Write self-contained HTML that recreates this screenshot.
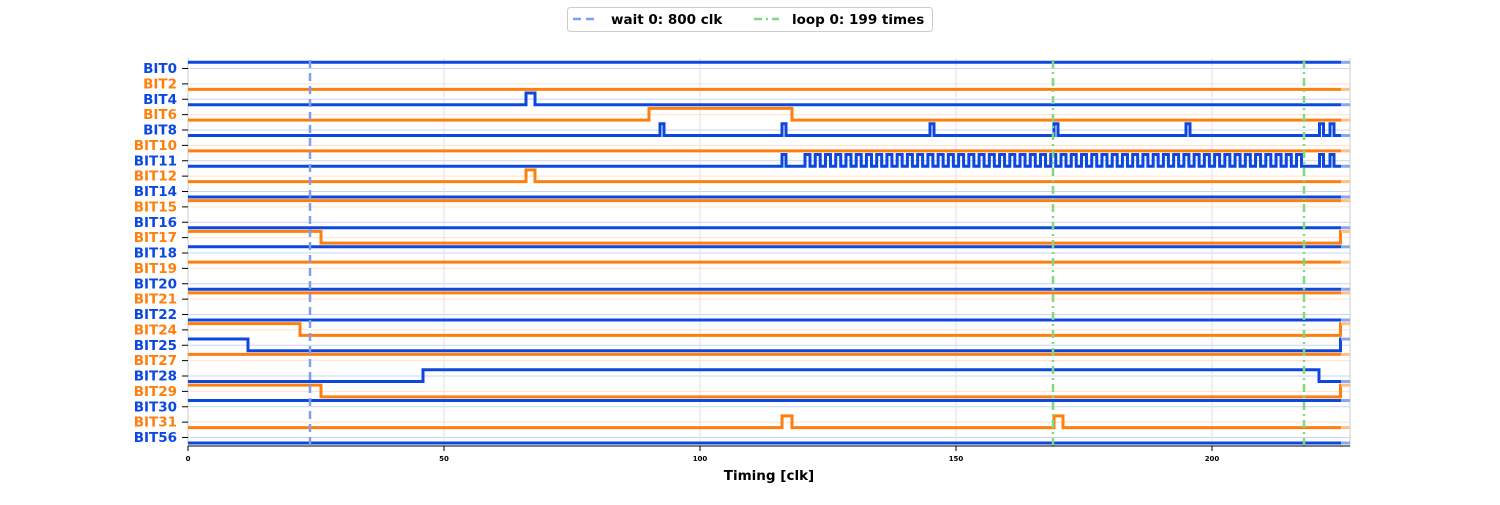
<!DOCTYPE html>
<html><head><meta charset="utf-8"><style>
body{margin:0;background:#fff;width:1500px;height:500px;overflow:hidden}
svg text{font-family:"DejaVu Sans","Liberation Sans",sans-serif;font-weight:bold}
</style></head><body>
<svg id="s" width="1500" height="500" xmlns="http://www.w3.org/2000/svg">
<g id="grid"></g>
<g stroke="#e0e0e0" stroke-width="1">
<line x1="444" y1="58" x2="444" y2="446"/><line x1="700" y1="58" x2="700" y2="446"/><line x1="956" y1="58" x2="956" y2="446"/><line x1="1212" y1="58" x2="1212" y2="446"/>
</g>
<line x1="188" y1="58" x2="188" y2="446" stroke="#ccc"/>
<line x1="1350" y1="58" x2="1350" y2="446" stroke="#ccc"/>
<g id="sig"></g>
<line x1="310" y1="60" x2="310" y2="446" stroke="#7f9ef0" stroke-width="2.5" stroke-dasharray="8,5"/>
<line x1="1053" y1="60" x2="1053" y2="446" stroke="#80d880" stroke-width="2.5" stroke-dasharray="8,4,2,4"/>
<line x1="1304" y1="60" x2="1304" y2="446" stroke="#80d880" stroke-width="2.5" stroke-dasharray="8,4,2,4"/>
<line x1="188" y1="446" x2="1350" y2="446" stroke="#000" stroke-width="1"/>
<g stroke="#000" stroke-width="1"><line x1="188" y1="446" x2="188" y2="451"/><line x1="444" y1="446" x2="444" y2="451"/><line x1="700" y1="446" x2="700" y2="451"/><line x1="956" y1="446" x2="956" y2="451"/><line x1="1212" y1="446" x2="1212" y2="451"/></g>
<g font-size="7" text-anchor="middle" fill="#000">
<text x="188" y="461">0</text><text x="444" y="461">50</text><text x="700" y="461">100</text><text x="956" y="461">150</text><text x="1212" y="461">200</text>
</g>
<text x="769" y="480" font-size="13.5" text-anchor="middle" fill="#000">Timing [clk]</text>
<g id="ticks" stroke="#000"></g>
<g font-size="13.5" text-anchor="end">
<text x="177" y="73" fill="#0c48e0">BIT0</text>
<text x="177" y="88.4" fill="#ff7f0e">BIT2</text>
<text x="177" y="103.8" fill="#0c48e0">BIT4</text>
<text x="177" y="119.1" fill="#ff7f0e">BIT6</text>
<text x="177" y="134.5" fill="#0c48e0">BIT8</text>
<text x="177" y="149.9" fill="#ff7f0e">BIT10</text>
<text x="177" y="165.3" fill="#0c48e0">BIT11</text>
<text x="177" y="180.6" fill="#ff7f0e">BIT12</text>
<text x="177" y="196" fill="#0c48e0">BIT14</text>
<text x="177" y="211.4" fill="#ff7f0e">BIT15</text>
<text x="177" y="226.8" fill="#0c48e0">BIT16</text>
<text x="177" y="242.1" fill="#ff7f0e">BIT17</text>
<text x="177" y="257.5" fill="#0c48e0">BIT18</text>
<text x="177" y="272.9" fill="#ff7f0e">BIT19</text>
<text x="177" y="288.3" fill="#0c48e0">BIT20</text>
<text x="177" y="303.6" fill="#ff7f0e">BIT21</text>
<text x="177" y="319" fill="#0c48e0">BIT22</text>
<text x="177" y="334.4" fill="#ff7f0e">BIT24</text>
<text x="177" y="349.8" fill="#0c48e0">BIT25</text>
<text x="177" y="365.1" fill="#ff7f0e">BIT27</text>
<text x="177" y="380.5" fill="#0c48e0">BIT28</text>
<text x="177" y="395.9" fill="#ff7f0e">BIT29</text>
<text x="177" y="411.3" fill="#0c48e0">BIT30</text>
<text x="177" y="426.6" fill="#ff7f0e">BIT31</text>
<text x="177" y="442" fill="#0c48e0">BIT56</text>
</g>
<rect x="567.5" y="7.5" width="365" height="24" rx="3" fill="#fff" stroke="#ccc"/>
<line x1="573" y1="19" x2="598" y2="19" stroke="#7f9ef0" stroke-width="2.5" stroke-dasharray="8,5"/>
<text x="611" y="24" font-size="13.5" fill="#000">wait 0: 800 clk</text>
<line x1="754" y1="19" x2="779" y2="19" stroke="#80d880" stroke-width="2.5" stroke-dasharray="8,4,2,4"/>
<text x="792" y="24" font-size="13.5" fill="#000">loop 0: 199 times</text>
</svg>
<script>
var B="#0c48e0",O="#ff7f0e",BF="#8aa6ef",OF="#ffbf87";
var sq=[782,786];for(var k=0;k<49;k++){var a=805+10.24*k;sq.push(a,a+5);}sq.push(1319.5,1323.5,1330,1334);
var sigs=[[1,[]],[0,[]],[0,[526,535]],[0,[649,792]],[0,[660,664,782,786,930,934,1054,1058,1186,1190,1319.5,1323.5,1330,1334]],[0,[]],[0,sq],[0,[526,535]],[0,[]],[1,[]],[0,[]],[1,[321,1340.5]],[1,[]],[1,[]],[0,[]],[1,[]],[0,[]],[1,[300,1340.5]],[1,[248,1340.5]],[1,[]],[0,[423,1319]],[1,[321,1340.5]],[1,[]],[0,[782,792,1054,1063]],[0,[]]];
var g="",s="",t="";
sigs.forEach(function(d,i){
 var y=68.5+15.375*i,c=i%2?O:B,f=i%2?OF:BF,gc=i%2?"#ffe3cc":"#c8d4f5";
 g+='<line x1="188" y1="'+y+'" x2="1350" y2="'+y+'" stroke="'+gc+'" stroke-width="1"/>';
 t+='<line x1="182" y1="'+y+'" x2="188" y2="'+y+'"/>';
 var lv=d[0],Y=function(l){return l?y-6.2:y+5.5};
 var p="M188 "+Y(lv);
 d[1].forEach(function(x){p+=" H"+x;lv=1-lv;p+=" V"+Y(lv);});
 p+=" H1341";
 s+='<path d="'+p+'" fill="none" stroke="'+c+'" stroke-width="3"/>';
 s+='<line x1="1341" y1="'+Y(lv)+'" x2="1350" y2="'+Y(lv)+'" stroke="'+f+'" stroke-width="3"/>';
});
document.getElementById("grid").innerHTML=g;
document.getElementById("sig"). innerHTML=s;
document.getElementById("ticks").innerHTML=t;
</script>
</body></html>
